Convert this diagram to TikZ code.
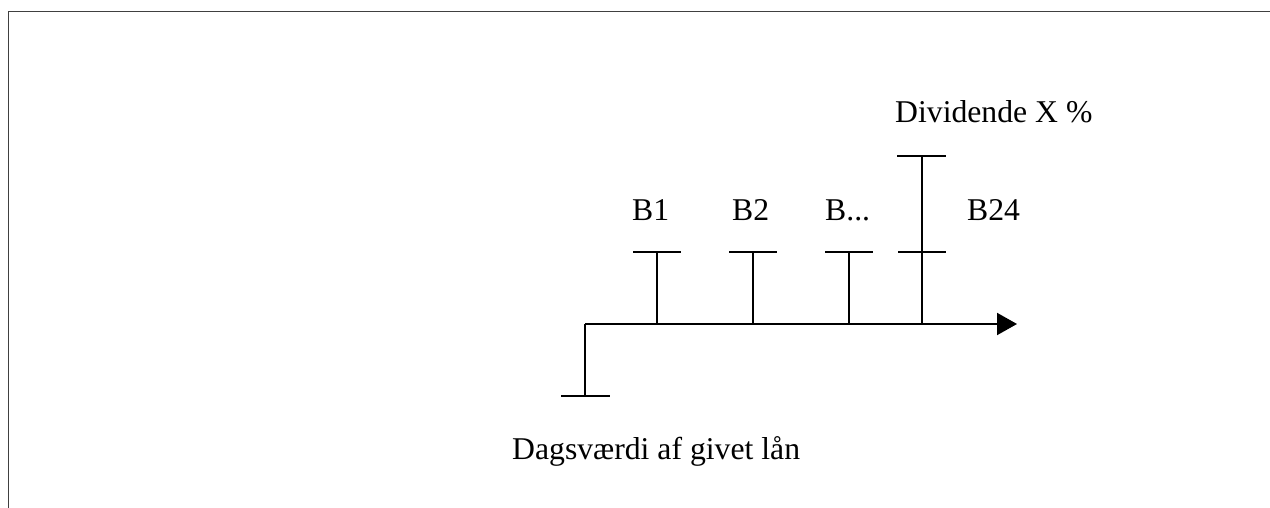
\documentclass[tikz,border=0pt]{standalone}
\usepackage{fontspec}
\setmainfont{Liberation Serif}
\usetikzlibrary{arrows.meta}
\begin{document}
\begin{tikzpicture}[x=1pt,y=-1pt,
  axisline/.style={line width=2pt, black, line cap=butt},
  frameline/.style={line width=1.6pt, black!75},
  lbl/.style={anchor=base west, inner sep=0pt, font=\fontsize{31.7}{38}\selectfont}]
\useasboundingbox (0,0) rectangle (1270,508);
% frame (top and left edges)
\coordinate (fr) at (1270,11.5);
\coordinate (fc) at (8.5,11.5);
\coordinate (fb) at (8.5,508);
\draw[frameline] (fr) -- (fc) -- (fb);
% time axis
\coordinate (low) at (585,396);
\coordinate (o) at (585,324);
\coordinate (end) at (1017,324);
\coordinate (lowL) at (561,396);
\coordinate (lowR) at (610,396);
\draw[axisline, -{Triangle[length=20pt,width=22pt]}] (o) -- (end);
\draw[axisline] (o) -- (low);
\draw[axisline] (lowL) -- (lowR);
% payments
\foreach \n/\x in {b1/657, b2/753, bd/849, b24/922} {
  \coordinate (\n-foot) at (\x,324);
  \coordinate (\n-top) at (\x,252);
  \coordinate (\n-l) at (\x-24,252);
  \coordinate (\n-r) at (\x+24,252);
  \draw[axisline] (\n-foot) -- (\n-top);
  \draw[axisline] (\n-l) -- (\n-r);
}
\coordinate (div-top) at (922,156);
\coordinate (div-l) at (897,156);
\coordinate (div-r) at (946,156);
\draw[axisline] (b24-top) -- (div-top);
\draw[axisline] (div-l) -- (div-r);
% labels
\node[lbl] (tdiv) at (895,123) {Dividende X \%};
\node[lbl] (tb1) at (632,220) {B1};
\node[lbl] (tb2) at (732,220) {B2};
\node[lbl] (tbd) at (825,220) {B...};
\node[lbl] (tb24) at (967,220) {B24};
\node[lbl] (tdag) at (512,459) {Dagsværdi af givet lån};
\end{tikzpicture}
\end{document}
